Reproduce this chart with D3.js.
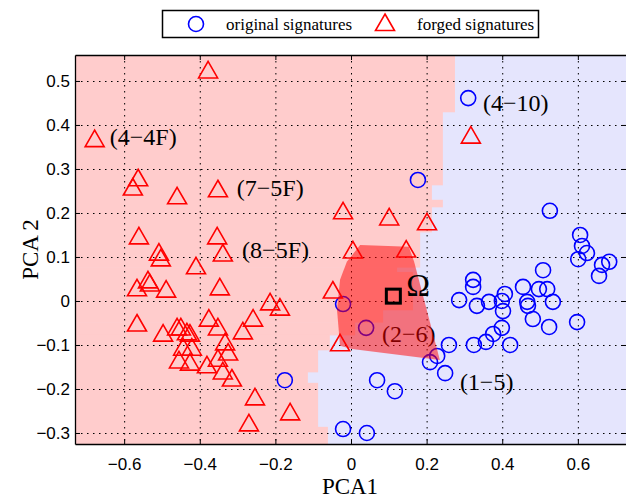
<!DOCTYPE html>
<html>
<head>
<meta charset="utf-8">
<script src="https://cdn.jsdelivr.net/npm/d3@7"></script>
<style>
  body { margin: 0; background: #fff; }
  svg { display: block; }
</style>
</head>
<body>
<svg id="chart" width="626" height="498"></svg>
<script>
// original signatures (PCA1, PCA2)
const origX = [0.310, 0.177, -0.021, 0.040, 0.209, 0.228, 0.249, 0.069, 0.116, -0.021, 0.042, -0.175,
               0.526, 0.606, 0.611, 0.624, 0.601, 0.664, 0.683, 0.656, 0.508, 0.323, 0.323, 0.286,
               0.333, 0.365, 0.407, 0.399, 0.402, 0.455, 0.466, 0.468, 0.497, 0.519, 0.534, 0.481,
               0.524, 0.598, 0.399, 0.376, 0.357, 0.325, 0.259, 0.421];
const origY = [0.461, 0.275, -0.007, -0.061, -0.139, -0.125, -0.164, -0.180, -0.205, -0.291, -0.300, -0.180,
               0.205, 0.150, 0.125, 0.109, 0.095, 0.082, 0.089, 0.057, 0.070, 0.048, 0.032, 0.002,
               -0.011, -0.002, 0.016, 0.000, -0.023, 0.032, -0.002, -0.011, 0.027, 0.027, -0.002, -0.041,
               -0.059, -0.048, -0.061, -0.075, -0.093, -0.100, -0.100, -0.100];

// forged signatures
const forgX = [-0.378, -0.678, -0.563, -0.577, -0.460, -0.352, -0.561, -0.508, -0.503, -0.354, -0.339, -0.410,
               -0.566, -0.537, -0.532, -0.489, -0.347, -0.214, -0.188, -0.566, -0.497, -0.460, -0.450, -0.434,
               -0.426, -0.376, -0.352, -0.259, -0.286, -0.444, -0.421, -0.455, -0.426, -0.381, -0.333, -0.325,
               -0.352, -0.339, -0.315, -0.254, -0.270, -0.161,
               0.317, -0.021, 0.101, 0.201, 0.005, 0.146, -0.048, -0.029];
const forgY = [0.525, 0.369, 0.280, 0.259, 0.239, 0.255, 0.148, 0.111, 0.098, 0.148, 0.109, 0.080,
               0.030, 0.048, 0.041, 0.027, 0.032, -0.002, -0.014, -0.050, -0.073, -0.059, -0.059, -0.070,
               -0.073, -0.039, -0.059, -0.039, -0.068, -0.105, -0.105, -0.134, -0.139, -0.145, -0.093, -0.116,
               -0.130, -0.159, -0.175, -0.218, -0.277, -0.252,
               0.377, 0.205, 0.191, 0.180, 0.116, 0.118, 0.025, -0.095];

// decision regions: band edges on PCA2 and the PCA1 split inside each band
const bandEdges = [0.559, 0.430, 0.264, 0.230, 0.214, 0.157, 0.077, 0.066, -0.020, -0.048,
                   -0.077, -0.111, -0.161, -0.186, -0.286, -0.325];
const bandSplit = [0.275, 0.243, 0.214, 0.243, 0.214, 0.183, 0.122, 0.164, 0.085, 0.011,
                   -0.056, -0.087, -0.114, -0.087, -0.061];

// region Ω
const hullX = [0.024, 0.153, 0.167, 0.235, 0.003, -0.029, -0.037, -0.029, -0.011];
const hullY = [0.127, 0.123, 0.089, -0.134, -0.109, -0.102, -0.020, 0.048, 0.089];
const omega = [0.112, 0.011];

const labels = ["(4\u22124F)", "(7\u22125F)", "(8\u22125F)", "(4\u221210)", "(2\u22126)", "(1\u22125)"];
const labelX = [-0.638, -0.302, -0.288, 0.349, 0.082, 0.288];
const labelY = [0.355, 0.239, 0.098, 0.432, -0.093, -0.202];

const xTicks = [-0.6, -0.4, -0.2, 0, 0.2, 0.4, 0.6];
const yTicks = [-0.3, -0.2, -0.1, 0, 0.1, 0.2, 0.3, 0.4, 0.5];

const x = d3.scaleLinear().domain([-0.73, 0.73]).range([75, 627]);
const y = d3.scaleLinear().domain([-0.325, 0.559]).range([444, 55]);

const svg = d3.select("#chart");
const serif = "'Liberation Serif', 'Times New Roman', serif";
const sans = "'Liberation Sans', Arial, sans-serif";

// background regions
svg.append("rect")
    .attr("x", x(-0.73)).attr("y", y(0.559))
    .attr("width", x(0.73) - x(-0.73)).attr("height", y(-0.325) - y(0.559))
    .attr("fill", "#e5e5fd");

svg.selectAll(".band")
    .data(bandSplit)
    .enter()
    .append("rect")
    .attr("class", "band")
    .attr("x", x(-0.73))
    .attr("y", (d, i) => y(bandEdges[i]))
    .attr("width", d => x(d) - x(-0.73))
    .attr("height", (d, i) => y(bandEdges[i + 1]) - y(bandEdges[i]) + 0.5)
    .attr("fill", "#ffcccc");

// grid
const grid = svg.append("g")
    .attr("stroke", "#000")
    .attr("stroke-width", 1)
    .attr("stroke-dasharray", "1.5,4.5");
grid.selectAll(".gx").data(xTicks).enter().append("line")
    .attr("x1", d => x(d) + 0.5).attr("x2", d => x(d) + 0.5)
    .attr("y1", y(0.559)).attr("y2", y(-0.325));
grid.selectAll(".gy").data(yTicks).enter().append("line")
    .attr("y1", d => Math.round(y(d)) + 0.5).attr("y2", d => Math.round(y(d)) + 0.5)
    .attr("x1", x(-0.73)).attr("x2", x(0.73));

const triPath = "M0,-8.5L9.5,8L-9.5,8Z";

// points
svg.selectAll(".orig")
    .data(origX)
    .enter()
    .append("circle")
    .attr("cx", d => x(d))
    .attr("cy", (d, i) => y(origY[i]))
    .attr("r", 7.5)
    .attr("fill", "none")
    .attr("stroke", "#0000ff")
    .attr("stroke-width", 1.6);

svg.selectAll(".forg")
    .data(forgX)
    .enter()
    .append("path")
    .attr("d", triPath)
    .attr("transform", (d, i) => `translate(${x(d)},${y(forgY[i])})`)
    .attr("fill", "none")
    .attr("stroke", "#ff0000")
    .attr("stroke-width", 1.6);

// labels
svg.selectAll(".lab")
    .data(labels)
    .enter()
    .append("text")
    .attr("x", (d, i) => x(labelX[i]))
    .attr("y", (d, i) => y(labelY[i]))
    .attr("font-family", serif)
    .attr("font-size", 24)
    .attr("fill", "#000")
    .text(d => d);

// region Ω (semi-transparent)
svg.append("polygon")
    .attr("points", hullX.map((d, i) => [x(d), y(hullY[i])].join(",")).join(" "))
    .attr("fill", "#ff0000")
    .attr("fill-opacity", 0.5);

svg.append("rect")
    .attr("x", x(omega[0]) - 7).attr("y", y(omega[1]) - 7)
    .attr("width", 14).attr("height", 14)
    .attr("fill", "none")
    .attr("stroke", "#000")
    .attr("stroke-width", 3);

svg.append("text")
    .attr("x", x(omega[0]) + 13)
    .attr("y", y(omega[1]) + 0)
    .attr("font-family", serif)
    .attr("font-size", 32)
    .text("\u03A9");

// axes
const fmt = d3.format("~g");
const axB = svg.append("g").attr("transform", `translate(0,${y(-0.325)})`)
    .call(d3.axisBottom(x).tickValues(xTicks).tickFormat(fmt).tickSizeInner(-5).tickSizeOuter(0).tickPadding(14));
const axT = svg.append("g").attr("transform", `translate(0,${y(0.559)})`)
    .call(d3.axisTop(x).tickValues(xTicks).tickFormat("").tickSizeInner(-5).tickSizeOuter(0));
const axL = svg.append("g").attr("transform", `translate(${x(-0.73)},0)`)
    .call(d3.axisLeft(y).tickValues(yTicks).tickFormat(fmt).tickSizeInner(-5).tickSizeOuter(0).tickPadding(5));
const axR = svg.append("g").attr("transform", `translate(${x(0.73)},0)`)
    .call(d3.axisRight(y).tickValues(yTicks).tickFormat("").tickSizeInner(-5).tickSizeOuter(0));

[axB, axT, axL, axR].forEach(a => {
    a.select(".domain").attr("stroke", "#000").attr("stroke-width", 1.3);
    a.selectAll(".tick line").attr("stroke", "#000").attr("stroke-width", 1);
    a.selectAll("text").attr("font-family", sans).attr("font-size", 17).attr("fill", "#000");
});

// axis titles
svg.append("text")
    .attr("x", (x(-0.73) + x(0.73)) / 2 - 1)
    .attr("y", 494)
    .attr("text-anchor", "middle")
    .attr("font-family", serif)
    .attr("font-size", 23)
    .text("PCA1");

svg.append("text")
    .attr("transform", `translate(38,${(y(0.559) + y(-0.325)) / 2}) rotate(-90)`)
    .attr("text-anchor", "middle")
    .attr("font-family", serif)
    .attr("font-size", 23)
    .text("PCA 2");

// legend
const legend = svg.append("g");
legend.append("rect")
    .attr("x", 162.5).attr("y", 10.5).attr("width", 376).attr("height", 27)
    .attr("fill", "#fff").attr("stroke", "#000").attr("stroke-width", 1.5);
legend.append("circle")
    .attr("cx", 196).attr("cy", 24).attr("r", 7.5)
    .attr("fill", "none").attr("stroke", "#0000ff").attr("stroke-width", 1.6);
legend.append("text")
    .attr("x", 226).attr("y", 29.5)
    .attr("font-family", serif).attr("font-size", 17)
    .text("original signatures");
legend.append("path")
    .attr("d", triPath)
    .attr("transform", "translate(385,22.5)")
    .attr("fill", "none").attr("stroke", "#ff0000").attr("stroke-width", 1.6);
legend.append("text")
    .attr("x", 417).attr("y", 29.5)
    .attr("font-family", serif).attr("font-size", 17)
    .text("forged signatures");
</script>
</body>
</html>
